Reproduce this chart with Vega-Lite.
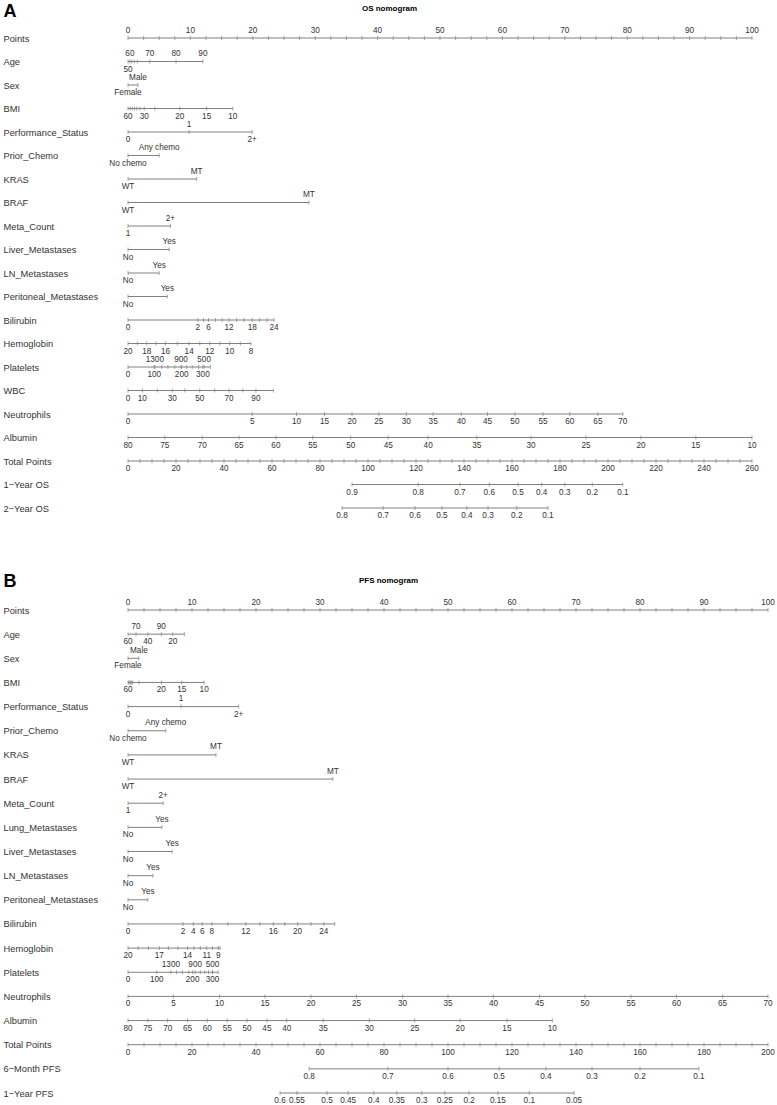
{
  "$schema": "https://vega.github.io/schema/vega-lite/v6.json",
  "padding": {"left": 3, "top": 2, "right": 0, "bottom": 0},
  "config": {
    "view": {"stroke": null},
    "font": "Liberation Sans",
    "text": {"font": "Liberation Sans", "fontSize": 8.2, "color": "#333333"},
    "tick": {"color": "#808080", "thickness": 1, "size": 4, "yOffset": -2},
    "rule": {"color": "#808080", "strokeWidth": 1}
  },
  "spacing": 52,
  "resolve": {"scale": {"x": "independent", "y": "independent"}},
  "datasets": {
    "osLines": [
      {"row": "Points", "from": 0, "to": 100},
      {"row": "Age", "from": 0, "to": 12.0},
      {"row": "Sex", "from": 0, "to": 1.6},
      {"row": "BMI", "from": 0, "to": 16.8},
      {"row": "Performance_Status", "from": 0, "to": 19.9},
      {"row": "Prior_Chemo", "from": 0, "to": 5.0},
      {"row": "KRAS", "from": 0, "to": 11.0},
      {"row": "BRAF", "from": 0, "to": 29.0},
      {"row": "Meta_Count", "from": 0, "to": 6.8},
      {"row": "Liver_Metastases", "from": 0, "to": 6.6},
      {"row": "LN_Metastases", "from": 0, "to": 5.0},
      {"row": "Peritoneal_Metastases", "from": 0, "to": 6.3},
      {"row": "Bilirubin", "from": 0, "to": 23.4},
      {"row": "Hemoglobin", "from": 0, "to": 19.7},
      {"row": "Platelets", "from": 0, "to": 13.2},
      {"row": "WBC", "from": 0, "to": 23.3},
      {"row": "Neutrophils", "from": 0, "to": 79.3},
      {"row": "Albumin", "from": 0, "to": 100},
      {"row": "Total Points", "from": 0, "to": 100},
      {"row": "1−Year OS", "from": 35.9, "to": 79.3},
      {"row": "2−Year OS", "from": 34.3, "to": 67.3}
    ],
    "osLabels": [
      {"row": "Points", "x": 0, "label": "0", "side": "a"},
      {"row": "Points", "x": 10, "label": "10", "side": "a"},
      {"row": "Points", "x": 20, "label": "20", "side": "a"},
      {"row": "Points", "x": 30, "label": "30", "side": "a"},
      {"row": "Points", "x": 40, "label": "40", "side": "a"},
      {"row": "Points", "x": 50, "label": "50", "side": "a"},
      {"row": "Points", "x": 60, "label": "60", "side": "a"},
      {"row": "Points", "x": 70, "label": "70", "side": "a"},
      {"row": "Points", "x": 80, "label": "80", "side": "a"},
      {"row": "Points", "x": 90, "label": "90", "side": "a"},
      {"row": "Points", "x": 100, "label": "100", "side": "a"},
      {"row": "Age", "x": 0, "label": "50", "side": "b"},
      {"row": "Age", "x": 0.3, "label": "60", "side": "a"},
      {"row": "Age", "x": 3.5, "label": "70", "side": "a"},
      {"row": "Age", "x": 7.7, "label": "80", "side": "a"},
      {"row": "Age", "x": 12.0, "label": "90", "side": "a"},
      {"row": "Sex", "x": 0, "label": "Female", "side": "b"},
      {"row": "Sex", "x": 1.6, "label": "Male", "side": "a"},
      {"row": "BMI", "x": 0, "label": "60", "side": "b"},
      {"row": "BMI", "x": 2.6, "label": "30", "side": "b"},
      {"row": "BMI", "x": 8.3, "label": "20", "side": "b"},
      {"row": "BMI", "x": 12.6, "label": "15", "side": "b"},
      {"row": "BMI", "x": 16.8, "label": "10", "side": "b"},
      {"row": "Performance_Status", "x": 0, "label": "0", "side": "b"},
      {"row": "Performance_Status", "x": 9.8, "label": "1", "side": "a"},
      {"row": "Performance_Status", "x": 19.9, "label": "2+", "side": "b"},
      {"row": "Prior_Chemo", "x": 0, "label": "No chemo", "side": "b"},
      {"row": "Prior_Chemo", "x": 5.0, "label": "Any chemo", "side": "a"},
      {"row": "KRAS", "x": 0, "label": "WT", "side": "b"},
      {"row": "KRAS", "x": 11.0, "label": "MT", "side": "a"},
      {"row": "BRAF", "x": 0, "label": "WT", "side": "b"},
      {"row": "BRAF", "x": 29.0, "label": "MT", "side": "a"},
      {"row": "Meta_Count", "x": 0, "label": "1", "side": "b"},
      {"row": "Meta_Count", "x": 6.8, "label": "2+", "side": "a"},
      {"row": "Liver_Metastases", "x": 0, "label": "No", "side": "b"},
      {"row": "Liver_Metastases", "x": 6.6, "label": "Yes", "side": "a"},
      {"row": "LN_Metastases", "x": 0, "label": "No", "side": "b"},
      {"row": "LN_Metastases", "x": 5.0, "label": "Yes", "side": "a"},
      {"row": "Peritoneal_Metastases", "x": 0, "label": "No", "side": "b"},
      {"row": "Peritoneal_Metastases", "x": 6.3, "label": "Yes", "side": "a"},
      {"row": "Bilirubin", "x": 0, "label": "0", "side": "b"},
      {"row": "Bilirubin", "x": 11.2, "label": "2", "side": "b"},
      {"row": "Bilirubin", "x": 12.9, "label": "6", "side": "b"},
      {"row": "Bilirubin", "x": 16.2, "label": "12", "side": "b"},
      {"row": "Bilirubin", "x": 19.9, "label": "18", "side": "b"},
      {"row": "Bilirubin", "x": 23.4, "label": "24", "side": "b"},
      {"row": "Hemoglobin", "x": 0, "label": "20", "side": "b"},
      {"row": "Hemoglobin", "x": 3.0, "label": "18", "side": "b"},
      {"row": "Hemoglobin", "x": 6.0, "label": "16", "side": "b"},
      {"row": "Hemoglobin", "x": 9.8, "label": "14", "side": "b"},
      {"row": "Hemoglobin", "x": 13.1, "label": "12", "side": "b"},
      {"row": "Hemoglobin", "x": 16.3, "label": "10", "side": "b"},
      {"row": "Hemoglobin", "x": 19.7, "label": "8", "side": "b"},
      {"row": "Platelets", "x": 0, "label": "0", "side": "b"},
      {"row": "Platelets", "x": 4.2, "label": "100", "side": "b"},
      {"row": "Platelets", "x": 8.6, "label": "200", "side": "b"},
      {"row": "Platelets", "x": 12.0, "label": "300", "side": "b"},
      {"row": "Platelets", "x": 4.3, "label": "1300", "side": "a"},
      {"row": "Platelets", "x": 8.5, "label": "900", "side": "a"},
      {"row": "Platelets", "x": 12.2, "label": "500", "side": "a"},
      {"row": "WBC", "x": 0, "label": "0", "side": "b"},
      {"row": "WBC", "x": 2.3, "label": "10", "side": "b"},
      {"row": "WBC", "x": 7.1, "label": "30", "side": "b"},
      {"row": "WBC", "x": 11.5, "label": "50", "side": "b"},
      {"row": "WBC", "x": 16.2, "label": "70", "side": "b"},
      {"row": "WBC", "x": 20.5, "label": "90", "side": "b"},
      {"row": "Neutrophils", "x": 0, "label": "0", "side": "b"},
      {"row": "Neutrophils", "x": 19.9, "label": "5", "side": "b"},
      {"row": "Neutrophils", "x": 27.0, "label": "10", "side": "b"},
      {"row": "Neutrophils", "x": 31.5, "label": "15", "side": "b"},
      {"row": "Neutrophils", "x": 35.9, "label": "20", "side": "b"},
      {"row": "Neutrophils", "x": 40.2, "label": "25", "side": "b"},
      {"row": "Neutrophils", "x": 44.6, "label": "30", "side": "b"},
      {"row": "Neutrophils", "x": 48.9, "label": "35", "side": "b"},
      {"row": "Neutrophils", "x": 53.4, "label": "40", "side": "b"},
      {"row": "Neutrophils", "x": 57.6, "label": "45", "side": "b"},
      {"row": "Neutrophils", "x": 62.0, "label": "50", "side": "b"},
      {"row": "Neutrophils", "x": 66.5, "label": "55", "side": "b"},
      {"row": "Neutrophils", "x": 70.8, "label": "60", "side": "b"},
      {"row": "Neutrophils", "x": 75.3, "label": "65", "side": "b"},
      {"row": "Neutrophils", "x": 79.3, "label": "70", "side": "b"},
      {"row": "Albumin", "x": 0, "label": "80", "side": "b"},
      {"row": "Albumin", "x": 5.9, "label": "75", "side": "b"},
      {"row": "Albumin", "x": 11.9, "label": "70", "side": "b"},
      {"row": "Albumin", "x": 17.8, "label": "65", "side": "b"},
      {"row": "Albumin", "x": 23.7, "label": "60", "side": "b"},
      {"row": "Albumin", "x": 29.6, "label": "55", "side": "b"},
      {"row": "Albumin", "x": 35.7, "label": "50", "side": "b"},
      {"row": "Albumin", "x": 41.7, "label": "45", "side": "b"},
      {"row": "Albumin", "x": 48.1, "label": "40", "side": "b"},
      {"row": "Albumin", "x": 55.9, "label": "35", "side": "b"},
      {"row": "Albumin", "x": 64.6, "label": "30", "side": "b"},
      {"row": "Albumin", "x": 73.4, "label": "25", "side": "b"},
      {"row": "Albumin", "x": 82.2, "label": "20", "side": "b"},
      {"row": "Albumin", "x": 91.0, "label": "15", "side": "b"},
      {"row": "Albumin", "x": 100, "label": "10", "side": "b"},
      {"row": "Total Points", "x": 0, "label": "0", "side": "b"},
      {"row": "Total Points", "x": 7.692, "label": "20", "side": "b"},
      {"row": "Total Points", "x": 15.385, "label": "40", "side": "b"},
      {"row": "Total Points", "x": 23.077, "label": "60", "side": "b"},
      {"row": "Total Points", "x": 30.769, "label": "80", "side": "b"},
      {"row": "Total Points", "x": 38.462, "label": "100", "side": "b"},
      {"row": "Total Points", "x": 46.154, "label": "120", "side": "b"},
      {"row": "Total Points", "x": 53.846, "label": "140", "side": "b"},
      {"row": "Total Points", "x": 61.538, "label": "160", "side": "b"},
      {"row": "Total Points", "x": 69.231, "label": "180", "side": "b"},
      {"row": "Total Points", "x": 76.923, "label": "200", "side": "b"},
      {"row": "Total Points", "x": 84.615, "label": "220", "side": "b"},
      {"row": "Total Points", "x": 92.308, "label": "240", "side": "b"},
      {"row": "Total Points", "x": 100, "label": "260", "side": "b"},
      {"row": "1−Year OS", "x": 35.9, "label": "0.9", "side": "b"},
      {"row": "1−Year OS", "x": 46.5, "label": "0.8", "side": "b"},
      {"row": "1−Year OS", "x": 53.2, "label": "0.7", "side": "b"},
      {"row": "1−Year OS", "x": 57.9, "label": "0.6", "side": "b"},
      {"row": "1−Year OS", "x": 62.5, "label": "0.5", "side": "b"},
      {"row": "1−Year OS", "x": 66.3, "label": "0.4", "side": "b"},
      {"row": "1−Year OS", "x": 70.0, "label": "0.3", "side": "b"},
      {"row": "1−Year OS", "x": 74.4, "label": "0.2", "side": "b"},
      {"row": "1−Year OS", "x": 79.3, "label": "0.1", "side": "b"},
      {"row": "2−Year OS", "x": 34.3, "label": "0.8", "side": "b"},
      {"row": "2−Year OS", "x": 40.9, "label": "0.7", "side": "b"},
      {"row": "2−Year OS", "x": 46.0, "label": "0.6", "side": "b"},
      {"row": "2−Year OS", "x": 50.3, "label": "0.5", "side": "b"},
      {"row": "2−Year OS", "x": 54.3, "label": "0.4", "side": "b"},
      {"row": "2−Year OS", "x": 57.7, "label": "0.3", "side": "b"},
      {"row": "2−Year OS", "x": 62.3, "label": "0.2", "side": "b"},
      {"row": "2−Year OS", "x": 67.3, "label": "0.1", "side": "b"}
    ],
    "osMinor": [
      {"row": "Points", "x": 2.5}, {"row": "Points", "x": 5}, {"row": "Points", "x": 7.5},
      {"row": "Points", "x": 12.5}, {"row": "Points", "x": 15}, {"row": "Points", "x": 17.5},
      {"row": "Points", "x": 22.5}, {"row": "Points", "x": 25}, {"row": "Points", "x": 27.5},
      {"row": "Points", "x": 32.5}, {"row": "Points", "x": 35}, {"row": "Points", "x": 37.5},
      {"row": "Points", "x": 42.5}, {"row": "Points", "x": 45}, {"row": "Points", "x": 47.5},
      {"row": "Points", "x": 52.5}, {"row": "Points", "x": 55}, {"row": "Points", "x": 57.5},
      {"row": "Points", "x": 62.5}, {"row": "Points", "x": 65}, {"row": "Points", "x": 67.5},
      {"row": "Points", "x": 72.5}, {"row": "Points", "x": 75}, {"row": "Points", "x": 77.5},
      {"row": "Points", "x": 82.5}, {"row": "Points", "x": 85}, {"row": "Points", "x": 87.5},
      {"row": "Points", "x": 92.5}, {"row": "Points", "x": 95}, {"row": "Points", "x": 97.5},
      {"row": "Age", "x": 0.6}, {"row": "Age", "x": 1.0}, {"row": "Age", "x": 1.5},
      {"row": "BMI", "x": 0.35}, {"row": "BMI", "x": 0.7}, {"row": "BMI", "x": 1.05}, {"row": "BMI", "x": 1.4}, {"row": "BMI", "x": 1.9}, {"row": "BMI", "x": 4.3},
      {"row": "Bilirubin", "x": 12.1}, {"row": "Bilirubin", "x": 14.0}, {"row": "Bilirubin", "x": 15.1}, {"row": "Bilirubin", "x": 17.4}, {"row": "Bilirubin", "x": 18.6}, {"row": "Bilirubin", "x": 21.1}, {"row": "Bilirubin", "x": 22.3},
      {"row": "Hemoglobin", "x": 1.5}, {"row": "Hemoglobin", "x": 4.5}, {"row": "Hemoglobin", "x": 7.9}, {"row": "Hemoglobin", "x": 11.5}, {"row": "Hemoglobin", "x": 14.7}, {"row": "Hemoglobin", "x": 18.0},
      {"row": "Platelets", "x": 13.2}, {"row": "Platelets", "x": 11.3}, {"row": "Platelets", "x": 10.3}, {"row": "Platelets", "x": 9.4}, {"row": "Platelets", "x": 7.5}, {"row": "Platelets", "x": 6.4}, {"row": "Platelets", "x": 5.4},
      {"row": "WBC", "x": 4.7}, {"row": "WBC", "x": 9.1}, {"row": "WBC", "x": 13.9}, {"row": "WBC", "x": 18.4}, {"row": "WBC", "x": 23.3},
      {"row": "Total Points", "x": 1.923}, {"row": "Total Points", "x": 3.846}, {"row": "Total Points", "x": 5.769},
      {"row": "Total Points", "x": 9.615}, {"row": "Total Points", "x": 11.538}, {"row": "Total Points", "x": 13.462},
      {"row": "Total Points", "x": 17.308}, {"row": "Total Points", "x": 19.231}, {"row": "Total Points", "x": 21.154},
      {"row": "Total Points", "x": 25}, {"row": "Total Points", "x": 26.923}, {"row": "Total Points", "x": 28.846},
      {"row": "Total Points", "x": 32.692}, {"row": "Total Points", "x": 34.615}, {"row": "Total Points", "x": 36.538},
      {"row": "Total Points", "x": 40.385}, {"row": "Total Points", "x": 42.308}, {"row": "Total Points", "x": 44.231},
      {"row": "Total Points", "x": 48.077}, {"row": "Total Points", "x": 50}, {"row": "Total Points", "x": 51.923},
      {"row": "Total Points", "x": 55.769}, {"row": "Total Points", "x": 57.692}, {"row": "Total Points", "x": 59.615},
      {"row": "Total Points", "x": 63.462}, {"row": "Total Points", "x": 65.385}, {"row": "Total Points", "x": 67.308},
      {"row": "Total Points", "x": 71.154}, {"row": "Total Points", "x": 73.077}, {"row": "Total Points", "x": 75},
      {"row": "Total Points", "x": 78.846}, {"row": "Total Points", "x": 80.769}, {"row": "Total Points", "x": 82.692},
      {"row": "Total Points", "x": 86.538}, {"row": "Total Points", "x": 88.462}, {"row": "Total Points", "x": 90.385},
      {"row": "Total Points", "x": 94.231}, {"row": "Total Points", "x": 96.154}, {"row": "Total Points", "x": 98.077}
    ],
    "pfsLines": [
      {"row": "Points", "from": 0, "to": 100},
      {"row": "Age", "from": 0, "to": 8.8},
      {"row": "Sex", "from": 0, "to": 1.7},
      {"row": "BMI", "from": 0, "to": 11.9},
      {"row": "Performance_Status", "from": 0, "to": 17.3},
      {"row": "Prior_Chemo", "from": 0, "to": 5.9},
      {"row": "KRAS", "from": 0, "to": 13.75},
      {"row": "BRAF", "from": 0, "to": 32.0},
      {"row": "Meta_Count", "from": 0, "to": 5.5},
      {"row": "Lung_Metastases", "from": 0, "to": 5.3},
      {"row": "Liver_Metastases", "from": 0, "to": 6.9},
      {"row": "LN_Metastases", "from": 0, "to": 3.9},
      {"row": "Peritoneal_Metastases", "from": 0, "to": 3.1},
      {"row": "Bilirubin", "from": 0, "to": 32.3},
      {"row": "Hemoglobin", "from": 0, "to": 14.4},
      {"row": "Platelets", "from": 0, "to": 14.1},
      {"row": "Neutrophils", "from": 0, "to": 100},
      {"row": "Albumin", "from": 0, "to": 66.3},
      {"row": "Total Points", "from": 0, "to": 100},
      {"row": "6−Month PFS", "from": 28.3, "to": 89.2},
      {"row": "1−Year PFS", "from": 23.75, "to": 69.7}
    ],
    "pfsLabels": [
      {"row": "Points", "x": 0, "label": "0", "side": "a"},
      {"row": "Points", "x": 10, "label": "10", "side": "a"},
      {"row": "Points", "x": 20, "label": "20", "side": "a"},
      {"row": "Points", "x": 30, "label": "30", "side": "a"},
      {"row": "Points", "x": 40, "label": "40", "side": "a"},
      {"row": "Points", "x": 50, "label": "50", "side": "a"},
      {"row": "Points", "x": 60, "label": "60", "side": "a"},
      {"row": "Points", "x": 70, "label": "70", "side": "a"},
      {"row": "Points", "x": 80, "label": "80", "side": "a"},
      {"row": "Points", "x": 90, "label": "90", "side": "a"},
      {"row": "Points", "x": 100, "label": "100", "side": "a"},
      {"row": "Age", "x": 1.25, "label": "70", "side": "a"},
      {"row": "Age", "x": 5.2, "label": "90", "side": "a"},
      {"row": "Age", "x": 0, "label": "60", "side": "b"},
      {"row": "Age", "x": 3.1, "label": "40", "side": "b"},
      {"row": "Age", "x": 7.0, "label": "20", "side": "b"},
      {"row": "Sex", "x": 0, "label": "Female", "side": "b"},
      {"row": "Sex", "x": 1.7, "label": "Male", "side": "a"},
      {"row": "BMI", "x": 0, "label": "60", "side": "b"},
      {"row": "BMI", "x": 5.2, "label": "20", "side": "b"},
      {"row": "BMI", "x": 8.4, "label": "15", "side": "b"},
      {"row": "BMI", "x": 11.9, "label": "10", "side": "b"},
      {"row": "Performance_Status", "x": 0, "label": "0", "side": "b"},
      {"row": "Performance_Status", "x": 8.3, "label": "1", "side": "a"},
      {"row": "Performance_Status", "x": 17.3, "label": "2+", "side": "b"},
      {"row": "Prior_Chemo", "x": 0, "label": "No chemo", "side": "b"},
      {"row": "Prior_Chemo", "x": 5.9, "label": "Any chemo", "side": "a"},
      {"row": "KRAS", "x": 0, "label": "WT", "side": "b"},
      {"row": "KRAS", "x": 13.75, "label": "MT", "side": "a"},
      {"row": "BRAF", "x": 0, "label": "WT", "side": "b"},
      {"row": "BRAF", "x": 32.0, "label": "MT", "side": "a"},
      {"row": "Meta_Count", "x": 0, "label": "1", "side": "b"},
      {"row": "Meta_Count", "x": 5.5, "label": "2+", "side": "a"},
      {"row": "Lung_Metastases", "x": 0, "label": "No", "side": "b"},
      {"row": "Lung_Metastases", "x": 5.3, "label": "Yes", "side": "a"},
      {"row": "Liver_Metastases", "x": 0, "label": "No", "side": "b"},
      {"row": "Liver_Metastases", "x": 6.9, "label": "Yes", "side": "a"},
      {"row": "LN_Metastases", "x": 0, "label": "No", "side": "b"},
      {"row": "LN_Metastases", "x": 3.9, "label": "Yes", "side": "a"},
      {"row": "Peritoneal_Metastases", "x": 0, "label": "No", "side": "b"},
      {"row": "Peritoneal_Metastases", "x": 3.1, "label": "Yes", "side": "a"},
      {"row": "Bilirubin", "x": 0, "label": "0", "side": "b"},
      {"row": "Bilirubin", "x": 8.6, "label": "2", "side": "b"},
      {"row": "Bilirubin", "x": 10.2, "label": "4", "side": "b"},
      {"row": "Bilirubin", "x": 11.6, "label": "6", "side": "b"},
      {"row": "Bilirubin", "x": 13.1, "label": "8", "side": "b"},
      {"row": "Bilirubin", "x": 18.4, "label": "12", "side": "b"},
      {"row": "Bilirubin", "x": 22.7, "label": "16", "side": "b"},
      {"row": "Bilirubin", "x": 26.5, "label": "20", "side": "b"},
      {"row": "Bilirubin", "x": 30.6, "label": "24", "side": "b"},
      {"row": "Hemoglobin", "x": 0, "label": "20", "side": "b"},
      {"row": "Hemoglobin", "x": 4.9, "label": "17", "side": "b"},
      {"row": "Hemoglobin", "x": 9.3, "label": "14", "side": "b"},
      {"row": "Hemoglobin", "x": 12.3, "label": "11", "side": "b"},
      {"row": "Hemoglobin", "x": 14.1, "label": "9", "side": "b"},
      {"row": "Platelets", "x": 0, "label": "0", "side": "b"},
      {"row": "Platelets", "x": 4.5, "label": "100", "side": "b"},
      {"row": "Platelets", "x": 10.1, "label": "200", "side": "b"},
      {"row": "Platelets", "x": 13.2, "label": "300", "side": "b"},
      {"row": "Platelets", "x": 6.7, "label": "1300", "side": "a"},
      {"row": "Platelets", "x": 10.5, "label": "900", "side": "a"},
      {"row": "Platelets", "x": 13.2, "label": "500", "side": "a"},
      {"row": "Neutrophils", "x": 0, "label": "0", "side": "b"},
      {"row": "Neutrophils", "x": 7.1, "label": "5", "side": "b"},
      {"row": "Neutrophils", "x": 14.3, "label": "10", "side": "b"},
      {"row": "Neutrophils", "x": 21.4, "label": "15", "side": "b"},
      {"row": "Neutrophils", "x": 28.6, "label": "20", "side": "b"},
      {"row": "Neutrophils", "x": 35.7, "label": "25", "side": "b"},
      {"row": "Neutrophils", "x": 42.9, "label": "30", "side": "b"},
      {"row": "Neutrophils", "x": 50.0, "label": "35", "side": "b"},
      {"row": "Neutrophils", "x": 57.1, "label": "40", "side": "b"},
      {"row": "Neutrophils", "x": 64.3, "label": "45", "side": "b"},
      {"row": "Neutrophils", "x": 71.4, "label": "50", "side": "b"},
      {"row": "Neutrophils", "x": 78.6, "label": "55", "side": "b"},
      {"row": "Neutrophils", "x": 85.7, "label": "60", "side": "b"},
      {"row": "Neutrophils", "x": 92.9, "label": "65", "side": "b"},
      {"row": "Neutrophils", "x": 100, "label": "70", "side": "b"},
      {"row": "Albumin", "x": 0, "label": "80", "side": "b"},
      {"row": "Albumin", "x": 3.1, "label": "75", "side": "b"},
      {"row": "Albumin", "x": 6.2, "label": "70", "side": "b"},
      {"row": "Albumin", "x": 9.3, "label": "65", "side": "b"},
      {"row": "Albumin", "x": 12.4, "label": "60", "side": "b"},
      {"row": "Albumin", "x": 15.5, "label": "55", "side": "b"},
      {"row": "Albumin", "x": 18.6, "label": "50", "side": "b"},
      {"row": "Albumin", "x": 21.7, "label": "45", "side": "b"},
      {"row": "Albumin", "x": 24.8, "label": "40", "side": "b"},
      {"row": "Albumin", "x": 30.5, "label": "35", "side": "b"},
      {"row": "Albumin", "x": 37.7, "label": "30", "side": "b"},
      {"row": "Albumin", "x": 44.8, "label": "25", "side": "b"},
      {"row": "Albumin", "x": 51.9, "label": "20", "side": "b"},
      {"row": "Albumin", "x": 59.2, "label": "15", "side": "b"},
      {"row": "Albumin", "x": 66.3, "label": "10", "side": "b"},
      {"row": "Total Points", "x": 0, "label": "0", "side": "b"},
      {"row": "Total Points", "x": 10, "label": "20", "side": "b"},
      {"row": "Total Points", "x": 20, "label": "40", "side": "b"},
      {"row": "Total Points", "x": 30, "label": "60", "side": "b"},
      {"row": "Total Points", "x": 40, "label": "80", "side": "b"},
      {"row": "Total Points", "x": 50, "label": "100", "side": "b"},
      {"row": "Total Points", "x": 60, "label": "120", "side": "b"},
      {"row": "Total Points", "x": 70, "label": "140", "side": "b"},
      {"row": "Total Points", "x": 80, "label": "160", "side": "b"},
      {"row": "Total Points", "x": 90, "label": "180", "side": "b"},
      {"row": "Total Points", "x": 100, "label": "200", "side": "b"},
      {"row": "6−Month PFS", "x": 28.3, "label": "0.8", "side": "b"},
      {"row": "6−Month PFS", "x": 40.6, "label": "0.7", "side": "b"},
      {"row": "6−Month PFS", "x": 50.0, "label": "0.6", "side": "b"},
      {"row": "6−Month PFS", "x": 58.0, "label": "0.5", "side": "b"},
      {"row": "6−Month PFS", "x": 65.3, "label": "0.4", "side": "b"},
      {"row": "6−Month PFS", "x": 72.5, "label": "0.3", "side": "b"},
      {"row": "6−Month PFS", "x": 80.0, "label": "0.2", "side": "b"},
      {"row": "6−Month PFS", "x": 89.2, "label": "0.1", "side": "b"},
      {"row": "1−Year PFS", "x": 23.75, "label": "0.6", "side": "b"},
      {"row": "1−Year PFS", "x": 26.4, "label": "0.55", "side": "b"},
      {"row": "1−Year PFS", "x": 31.1, "label": "0.5", "side": "b"},
      {"row": "1−Year PFS", "x": 34.4, "label": "0.45", "side": "b"},
      {"row": "1−Year PFS", "x": 38.4, "label": "0.4", "side": "b"},
      {"row": "1−Year PFS", "x": 42.0, "label": "0.35", "side": "b"},
      {"row": "1−Year PFS", "x": 45.9, "label": "0.3", "side": "b"},
      {"row": "1−Year PFS", "x": 49.5, "label": "0.25", "side": "b"},
      {"row": "1−Year PFS", "x": 53.3, "label": "0.2", "side": "b"},
      {"row": "1−Year PFS", "x": 57.8, "label": "0.15", "side": "b"},
      {"row": "1−Year PFS", "x": 62.7, "label": "0.1", "side": "b"},
      {"row": "1−Year PFS", "x": 69.7, "label": "0.05", "side": "b"}
    ],
    "pfsMinor": [
      {"row": "Points", "x": 2.5}, {"row": "Points", "x": 5}, {"row": "Points", "x": 7.5},
      {"row": "Points", "x": 12.5}, {"row": "Points", "x": 15}, {"row": "Points", "x": 17.5},
      {"row": "Points", "x": 22.5}, {"row": "Points", "x": 25}, {"row": "Points", "x": 27.5},
      {"row": "Points", "x": 32.5}, {"row": "Points", "x": 35}, {"row": "Points", "x": 37.5},
      {"row": "Points", "x": 42.5}, {"row": "Points", "x": 45}, {"row": "Points", "x": 47.5},
      {"row": "Points", "x": 52.5}, {"row": "Points", "x": 55}, {"row": "Points", "x": 57.5},
      {"row": "Points", "x": 62.5}, {"row": "Points", "x": 65}, {"row": "Points", "x": 67.5},
      {"row": "Points", "x": 72.5}, {"row": "Points", "x": 75}, {"row": "Points", "x": 77.5},
      {"row": "Points", "x": 82.5}, {"row": "Points", "x": 85}, {"row": "Points", "x": 87.5},
      {"row": "Points", "x": 92.5}, {"row": "Points", "x": 95}, {"row": "Points", "x": 97.5},
      {"row": "Age", "x": 8.8},
      {"row": "BMI", "x": 0.15}, {"row": "BMI", "x": 0.3}, {"row": "BMI", "x": 0.45}, {"row": "BMI", "x": 0.6}, {"row": "BMI", "x": 0.75}, {"row": "BMI", "x": 1.7},
      {"row": "Bilirubin", "x": 15.6}, {"row": "Bilirubin", "x": 20.6}, {"row": "Bilirubin", "x": 24.5}, {"row": "Bilirubin", "x": 28.6}, {"row": "Bilirubin", "x": 32.3},
      {"row": "Hemoglobin", "x": 1.6}, {"row": "Hemoglobin", "x": 3.2}, {"row": "Hemoglobin", "x": 6.3}, {"row": "Hemoglobin", "x": 7.8}, {"row": "Hemoglobin", "x": 10.3}, {"row": "Hemoglobin", "x": 11.3}, {"row": "Hemoglobin", "x": 13.2}, {"row": "Hemoglobin", "x": 14.4},
      {"row": "Platelets", "x": 14.1}, {"row": "Platelets", "x": 12.6}, {"row": "Platelets", "x": 12.0}, {"row": "Platelets", "x": 11.3}, {"row": "Platelets", "x": 9.5}, {"row": "Platelets", "x": 8.5}, {"row": "Platelets", "x": 7.6},
      {"row": "Total Points", "x": 2.5}, {"row": "Total Points", "x": 5}, {"row": "Total Points", "x": 7.5},
      {"row": "Total Points", "x": 12.5}, {"row": "Total Points", "x": 15}, {"row": "Total Points", "x": 17.5},
      {"row": "Total Points", "x": 22.5}, {"row": "Total Points", "x": 25}, {"row": "Total Points", "x": 27.5},
      {"row": "Total Points", "x": 32.5}, {"row": "Total Points", "x": 35}, {"row": "Total Points", "x": 37.5},
      {"row": "Total Points", "x": 42.5}, {"row": "Total Points", "x": 45}, {"row": "Total Points", "x": 47.5},
      {"row": "Total Points", "x": 52.5}, {"row": "Total Points", "x": 55}, {"row": "Total Points", "x": 57.5},
      {"row": "Total Points", "x": 62.5}, {"row": "Total Points", "x": 65}, {"row": "Total Points", "x": 67.5},
      {"row": "Total Points", "x": 72.5}, {"row": "Total Points", "x": 75}, {"row": "Total Points", "x": 77.5},
      {"row": "Total Points", "x": 82.5}, {"row": "Total Points", "x": 85}, {"row": "Total Points", "x": 87.5},
      {"row": "Total Points", "x": 92.5}, {"row": "Total Points", "x": 95}, {"row": "Total Points", "x": 97.5}
    ]
  },
  "vconcat": [
    {
      "width": 624,
      "height": 470,
      "layer": [
        {
          "data": {"name": "osLines"},
          "mark": {"type": "rule"},
          "encoding": {
            "x": {"field": "from", "type": "quantitative", "scale": {"domain": [0, 100], "nice": false, "zero": false},
              "axis": {"orient": "top", "title": "OS nomogram", "domain": false, "ticks": false, "labels": false, "grid": false,
                "titleFont": "Liberation Sans", "titleFontSize": 8, "titleFontWeight": "bold", "titleColor": "#000000",
                "titleX": 261, "titleY": -30, "titleAlign": "center", "titleBaseline": "middle"}},
            "x2": {"field": "to"},
            "y": {"field": "row", "type": "nominal",
              "scale": {"type": "point", "padding": 0, "domain": ["Points", "Age", "Sex", "BMI", "Performance_Status", "Prior_Chemo", "KRAS", "BRAF", "Meta_Count", "Liver_Metastases", "LN_Metastases", "Peritoneal_Metastases", "Bilirubin", "Hemoglobin", "Platelets", "WBC", "Neutrophils", "Albumin", "Total Points", "1−Year OS", "2−Year OS"]},
              "axis": {"domain": false, "ticks": false, "tickSize": 0, "grid": false, "labelAlign": "left", "labelBaseline": "middle", "labelPadding": 125,
                "labelFont": "Liberation Sans", "labelFontSize": 9.3, "labelColor": "#333333",
                "title": "A", "titleAngle": 0, "titleAlign": "left", "titleBaseline": "top", "titleX": -125, "titleY": -36,
                "titleFont": "Liberation Sans", "titleFontSize": 18, "titleFontWeight": "bold", "titleColor": "#000000"}}
          }
        },
        {
          "data": {"name": "osLabels"},
          "mark": {"type": "tick"},
          "encoding": {"x": {"field": "x", "type": "quantitative"}, "y": {"field": "row", "type": "nominal"}}
        },
        {
          "data": {"name": "osMinor"},
          "mark": {"type": "tick"},
          "encoding": {"x": {"field": "x", "type": "quantitative"}, "y": {"field": "row", "type": "nominal"}}
        },
        {
          "data": {"name": "osLabels"},
          "transform": [{"filter": "datum.side === 'a'"}],
          "mark": {"type": "text", "dy": -7.5},
          "encoding": {"x": {"field": "x", "type": "quantitative"}, "y": {"field": "row", "type": "nominal"}, "text": {"field": "label"}}
        },
        {
          "data": {"name": "osLabels"},
          "transform": [{"filter": "datum.side === 'b'"}],
          "mark": {"type": "text", "dy": 8},
          "encoding": {"x": {"field": "x", "type": "quantitative"}, "y": {"field": "row", "type": "nominal"}, "text": {"field": "label"}}
        }
      ]
    },
    {
      "width": 640,
      "height": 483,
      "layer": [
        {
          "data": {"name": "pfsLines"},
          "mark": {"type": "rule"},
          "encoding": {
            "x": {"field": "from", "type": "quantitative", "scale": {"domain": [0, 100], "nice": false, "zero": false},
              "axis": {"orient": "top", "title": "PFS nomogram", "domain": false, "ticks": false, "labels": false, "grid": false,
                "titleFont": "Liberation Sans", "titleFontSize": 8, "titleFontWeight": "bold", "titleColor": "#000000",
                "titleX": 260, "titleY": -30, "titleAlign": "center", "titleBaseline": "middle"}},
            "x2": {"field": "to"},
            "y": {"field": "row", "type": "nominal",
              "scale": {"type": "point", "padding": 0, "domain": ["Points", "Age", "Sex", "BMI", "Performance_Status", "Prior_Chemo", "KRAS", "BRAF", "Meta_Count", "Lung_Metastases", "Liver_Metastases", "LN_Metastases", "Peritoneal_Metastases", "Bilirubin", "Hemoglobin", "Platelets", "Neutrophils", "Albumin", "Total Points", "6−Month PFS", "1−Year PFS"]},
              "axis": {"domain": false, "ticks": false, "tickSize": 0, "grid": false, "labelAlign": "left", "labelBaseline": "middle", "labelPadding": 125,
                "labelFont": "Liberation Sans", "labelFontSize": 9.3, "labelColor": "#333333",
                "title": "B", "titleAngle": 0, "titleAlign": "left", "titleBaseline": "top", "titleX": -125, "titleY": -38,
                "titleFont": "Liberation Sans", "titleFontSize": 18, "titleFontWeight": "bold", "titleColor": "#000000"}}
          }
        },
        {
          "data": {"name": "pfsLabels"},
          "mark": {"type": "tick"},
          "encoding": {"x": {"field": "x", "type": "quantitative"}, "y": {"field": "row", "type": "nominal"}}
        },
        {
          "data": {"name": "pfsMinor"},
          "mark": {"type": "tick"},
          "encoding": {"x": {"field": "x", "type": "quantitative"}, "y": {"field": "row", "type": "nominal"}}
        },
        {
          "data": {"name": "pfsLabels"},
          "transform": [{"filter": "datum.side === 'a'"}],
          "mark": {"type": "text", "dy": -7.5},
          "encoding": {"x": {"field": "x", "type": "quantitative"}, "y": {"field": "row", "type": "nominal"}, "text": {"field": "label"}}
        },
        {
          "data": {"name": "pfsLabels"},
          "transform": [{"filter": "datum.side === 'b'"}],
          "mark": {"type": "text", "dy": 8},
          "encoding": {"x": {"field": "x", "type": "quantitative"}, "y": {"field": "row", "type": "nominal"}, "text": {"field": "label"}}
        }
      ]
    }
  ]
}
